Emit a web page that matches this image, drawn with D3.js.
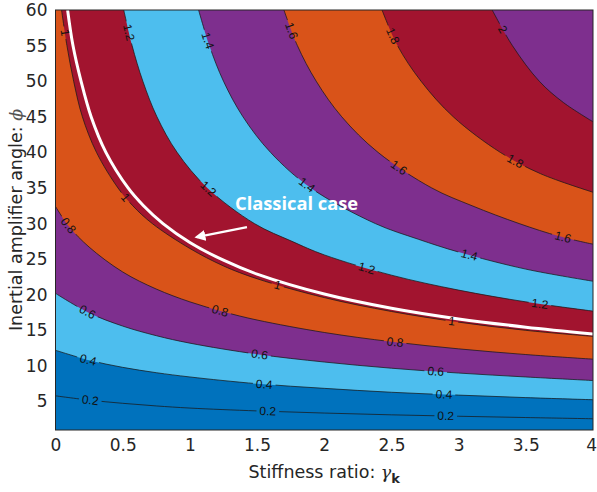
<!DOCTYPE html>
<html><head><meta charset="utf-8">
<script src="https://cdn.jsdelivr.net/npm/d3@7"></script>
<style>body{margin:0;background:#fff}svg{display:block}</style>
</head><body>
<svg id="chart" width="597" height="492"></svg>
<script>
// ---- data ----
const levels = [0.2, 0.4, 0.6, 0.8, 1.0, 1.2, 1.4, 1.6, 1.8, 2.0];
const levelText = ["0.2","0.4","0.6","0.8","1","1.2","1.4","1.6","1.8","2"];
const bandColors = ["#0072BD","#0072BD","#4DBEEE","#7E2F8E","#D95319","#A2142F","#4DBEEE","#7E2F8E","#D95319","#A2142F","#7E2F8E"];

// contour lines: [stiffness ratio, angle (deg)]
const line02 = [[0,5.8],[0.25,5.2],[0.5,4.75],[0.75,4.38],[1,4.08],[1.5,3.68],[2,3.38],[2.5,3.13],[3,2.93],[3.5,2.75],[4,2.58]];
const line04 = [[0,12.2],[0.25,10.8],[0.5,9.8],[0.75,9.05],[1,8.45],[1.5,7.5],[2,6.85],[2.5,6.3],[3,5.9],[3.5,5.55],[4,5.25]];
const line06 = [[0,20.2],[0.25,17.45],[0.5,15.6],[0.75,14.25],[1,13.2],[1.5,11.65],[2,10.55],[2.5,9.68],[3,9.0],[3.5,8.45],[4,7.95]];
const line08 = [[0,32.4],[0.1,29.6],[0.25,26.7],[0.5,23.2],[0.75,20.8],[1,19.0],[1.25,17.6],[1.5,16.45],[2,14.7],[2.5,13.4],[3,12.4],[3.5,11.6],[4,10.95]];
const line10 = [[0.045,60],[0.085,55],[0.135,50],[0.2,45],[0.305,40],[0.465,35],[0.575,32.5],[0.72,30],[1,26.5],[1.25,24.05],[1.5,22.25],[2,19.6],[2.5,17.65],[3,16.15],[3.5,15.0],[4,14.15]];
const line12 = [[0.508,60],[0.57,55],[0.65,50],[0.755,45],[0.905,40],[1.13,35],[1.48,30],[1.76,27.5],[2,25.6],[2.5,22.75],[3,20.65],[3.5,19.0],[4,17.7]];
const line14 = [[1.065,60],[1.145,55],[1.25,50],[1.395,45],[1.6,40],[1.9,35],[2.38,30],[2.7,27.8],[3,26.0],[3.5,23.6],[4,21.9]];
const line16 = [[1.7,60],[1.8,55],[1.94,50],[2.13,45],[2.4,40],[2.8,35],[3.1,32.5],[3.45,30],[3.75,28.2],[4,27.1]];
const line18 = [[2.43,60],[2.545,55],[2.72,50],[2.96,45],[3.31,40],[3.61,37],[4,34.4]];
const line20 = [[3.25,60],[3.4,55],[3.6,50],[3.78,47],[4,44.3]];
const contourLines = [line02, line04, line06, line08, line10, line12, line14, line16, line18, line20];

// label anchor positions, per level
const labelPos = [
  [[0.257,5.22],[1.581,3.58],[2.906,2.88]],
  [[0.245,10.84],[1.556,7.33],[2.893,5.93]],
  [[0.231,17.4],[1.517,11.54],[2.828,9.06]],
  [[0.089,29.56],[1.218,17.4],[2.529,13.19]],
  [[0.058,56.73],[0.517,33.55],[1.647,20.91],[2.945,16.0]],
  [[0.517,56.73],[1.125,34.72],[2.309,23.48],[3.606,18.57]],
  [[1.112,55.55],[1.869,35.42],[3.074,25.35]],
  [[1.745,56.95],[2.554,37.77],[3.776,27.94]],
  [[2.504,56.25],[3.421,38.69]],
  [[3.322,57.19]]
];

// classical case curve
const classical = [[0.09,60],[0.13,55],[0.19,50],[0.265,45],[0.375,40],[0.54,35],[0.655,32.5],[0.8,30],[1,27.35],[1.25,24.85],[1.5,22.9],[2,20.1],[2.5,18.1],[3,16.6],[3.5,15.45],[4,14.5]];
const arrowFrom = [1.425, 29.5];
const arrowTo = [1.05, 28.1];
const annotText = "Classical case";
const annotPos = [1.336, 33.0];

const xTicks = [0,0.5,1,1.5,2,2.5,3,3.5,4];
const yTicks = [5,10,15,20,25,30,35,40,45,50,55,60];
const xDomain = [0,4], yDomain = [1,60];

// ---- drawing ----
const svg = d3.select("#chart");
const L = 55.5, R = 593, T = 10, B = 430;
const x = d3.scaleLinear(xDomain, [L, R]);
const y = d3.scaleLinear(yDomain, [B, T]);

const defs = svg.append("defs");
defs.append("clipPath").attr("id","plotClip").append("rect")
  .attr("x",L).attr("y",T).attr("width",R-L).attr("height",B-T);
const mask = defs.append("mask").attr("id","labelMask")
  .attr("maskUnits","userSpaceOnUse").attr("x",0).attr("y",0).attr("width",597).attr("height",492);
mask.append("rect").attr("x",0).attr("y",0).attr("width",597).attr("height",492).attr("fill","#fff");

const plot = svg.append("g").attr("clip-path","url(#plotClip)");
plot.append("rect").attr("x",L).attr("y",T).attr("width",R-L).attr("height",B-T).attr("fill",bandColors[0]);

const lineGen = d3.line().x(d=>x(d[0])).y(d=>y(d[1])).curve(d3.curveCatmullRom.alpha(0.5));
const corner = `L${x(xDomain[1])},${y(yDomain[1])}L${x(xDomain[0])},${y(yDomain[1])}Z`;

contourLines.forEach((pts,i)=>{
  plot.append("path").attr("d", lineGen(pts) + corner).attr("fill", bandColors[i+1]).attr("stroke","none");
});

const linesG = plot.append("g").attr("mask","url(#labelMask)");
const paths = contourLines.map(pts =>
  linesG.append("path").attr("d", lineGen(pts)).attr("fill","none")
    .attr("stroke","#1a1a1a").attr("stroke-width",0.75).node());

// white classical line
plot.append("path").attr("d", lineGen(classical)).attr("fill","none")
  .attr("stroke","#fff").attr("stroke-width",3);

// labels
const labelsG = plot.append("g").attr("font-family","Liberation Sans, Arial, sans-serif")
  .attr("font-size","12px").attr("fill","#111");
labelPos.forEach((arr,i)=>{
  const p = paths[i];
  const len = p.getTotalLength();
  const samples = [];
  for (let s=0; s<=len; s+=1) samples.push([s, p.getPointAtLength(s)]);
  arr.forEach(lp=>{
    const px = x(lp[0]), py = y(lp[1]);
    let best = samples[0], bd = Infinity;
    samples.forEach(sm=>{ const d=(sm[1].x-px)**2+(sm[1].y-py)**2; if(d<bd){bd=d;best=sm;} });
    const s = best[0];
    const a = p.getPointAtLength(Math.max(0,s-4)), b = p.getPointAtLength(Math.min(len,s+4));
    let ang = Math.atan2(b.y-a.y, b.x-a.x)*180/Math.PI;
    if (ang>90) ang-=180; if (ang<-90) ang+=180;
    const cx = best[1].x, cy = best[1].y;
    const t = labelsG.append("text").attr("text-anchor","middle").attr("dominant-baseline","central")
      .attr("transform",`translate(${cx},${cy}) rotate(${ang})`).text(levelText[i]);
    const w = t.node().getComputedTextLength();
    mask.append("rect").attr("x",-w/2-3).attr("y",-6).attr("width",w+6).attr("height",12)
      .attr("fill","#000").attr("transform",`translate(${cx},${cy}) rotate(${ang})`);
  });
});

// annotation
defs.append("marker").attr("id","arrowHead").attr("viewBox","0 0 10 10").attr("refX",8).attr("refY",5)
  .attr("markerWidth",5).attr("markerHeight",5).attr("orient","auto")
  .append("path").attr("d","M0,0L10,5L0,10Z").attr("fill","#fff");
plot.append("line").attr("x1",x(arrowFrom[0])).attr("y1",y(arrowFrom[1]))
  .attr("x2",x(arrowTo[0])).attr("y2",y(arrowTo[1]))
  .attr("stroke","#fff").attr("stroke-width",2.2).attr("marker-end","url(#arrowHead)");
plot.append("text").attr("x",x(annotPos[0])).attr("y",y(annotPos[1])).attr("dominant-baseline","central")
  .attr("font-family","Open Sans, sans-serif").attr("font-weight",700).attr("font-size","18.3px")
  .attr("fill","#fff").text(annotText);

// frame
svg.append("rect").attr("x",L).attr("y",T).attr("width",R-L).attr("height",B-T)
  .attr("fill","none").attr("stroke","#262626").attr("stroke-width",1);

// axes
const fmt = d3.format("~g");
const gx = svg.append("g").attr("transform",`translate(0,${B})`)
  .call(d3.axisBottom(x).tickValues(xTicks).tickSize(0).tickPadding(9).tickFormat(fmt));
const gy = svg.append("g").attr("transform",`translate(${L},0)`)
  .call(d3.axisLeft(y).tickValues(yTicks).tickSize(0).tickPadding(8).tickFormat(fmt));
[gx,gy].forEach(g=>{
  g.select(".domain").remove();
  g.selectAll("text").attr("font-family","DejaVu Sans, sans-serif").attr("font-size","17px").attr("fill","#262626");
});
gx.selectAll(".tick text").filter(d=>d===xDomain[1]).attr("text-anchor","end").attr("x",3.5);

// axis titles
const xt = svg.append("text").attr("x",(L+R)/2).attr("y",478).attr("text-anchor","middle")
  .attr("font-family","DejaVu Sans, sans-serif").attr("font-size","17.5px").attr("fill","#262626");
xt.append("tspan").text("Stiffness ratio: ");
xt.append("tspan").attr("font-family","DejaVu Serif, serif").attr("font-style","italic").text("γ");
xt.append("tspan").attr("font-size","13px").attr("dy",5).attr("font-weight",700).text("k");

const yt = svg.append("text").attr("transform",`translate(22,${(T+B)/2}) rotate(-90)`).attr("text-anchor","middle")
  .attr("font-family","DejaVu Sans, sans-serif").attr("font-size","17.5px").attr("fill","#262626");
yt.append("tspan").text("Inertial amplifier angle: ");
yt.append("tspan").attr("font-family","DejaVu Serif, serif").attr("font-style","italic").attr("fill","#555").text("ϕ");
</script>
</body></html>
